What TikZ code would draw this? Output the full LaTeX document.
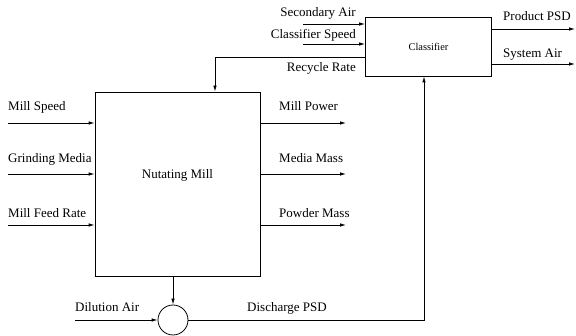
\documentclass[tikz,border=0pt]{standalone}
\usepackage{fontspec}
\setmainfont{Liberation Serif}
\usetikzlibrary{arrows.meta}
\begin{document}
\begin{tikzpicture}[x=1pt,y=-1pt,
      block/.style={rectangle,draw,line width=0.8pt,inner sep=0pt},
      lbl/.style={font=\fontsize{13}{15}\selectfont,inner sep=0pt},
      arr/.style={-{Latex[length=6pt,width=3.5pt]},line width=0.8pt}
    ]
      \useasboundingbox (0,0) rectangle (576,336);
      \node[block,minimum width=165pt,minimum height=184pt] (mill) at (177.5,184) {};
      \node[lbl] (milltxt) at (177.5,175) {Nutating Mill};
      \node[block,minimum width=126pt,minimum height=59pt,font=\fontsize{10.4}{12}\selectfont] (cls) at (428.5,46.5) {Classifier};
      \node[circle,draw,line width=0.8pt,minimum size=30pt,inner sep=0pt] (mix) at (173,320) {};

      \coordinate (msin) at (8,123);
      \coordinate (gmin) at (8,174);
      \coordinate (mfin) at (8,225);
      \coordinate (mpout) at (346,123);
      \coordinate (mmout) at (346,174);
      \coordinate (pmout) at (346,225);
      \coordinate (dil) at (75,320);
      \coordinate (dis) at (424,320);
      \coordinate (sain) at (303,24);
      \coordinate (csin) at (303,44);
      \coordinate (rec) at (215,57);
      \coordinate (ppsd) at (575,29);
      \coordinate (sysair) at (575,64);

      % mill in/out
      \draw[arr] (msin) -- (mill.west |- msin);
      \draw[arr] (gmin) -- (mill.west |- gmin);
      \draw[arr] (mfin) -- (mill.west |- mfin);
      \draw[arr] (mill.east |- mpout) -- (mpout);
      \draw[arr] (mill.east |- mmout) -- (mmout);
      \draw[arr] (mill.east |- pmout) -- (pmout);
      \draw[arr] (mill.south -| mix) -- (mix.north);
      \draw[arr] (dil) -- (mix.west);
      \draw[arr] (mix.east) -| (cls.south -| dis);

      % classifier in/out
      \draw[arr] (sain) -- (cls.west |- sain);
      \draw[arr] (csin) -- (cls.west |- csin);
      \draw[arr] (cls.west |- rec) -| (mill.north -| rec);
      \draw[arr] (cls.east |- ppsd) -- (ppsd);
      \draw[arr] (cls.east |- sysair) -- (sysair);

      \node[lbl,anchor=base west] (mslbl) at (8,111) {Mill Speed};
      \node[lbl,anchor=base west] (gmlbl) at (8,163) {Grinding Media};
      \node[lbl,anchor=base west] (mflbl) at (8,218) {Mill Feed Rate};
      \node[lbl,anchor=base west] (mplbl) at (279,111) {Mill Power};
      \node[lbl,anchor=base west] (mmlbl) at (279,163) {Media Mass};
      \node[lbl,anchor=base west] (pmlbl) at (279,218) {Powder Mass};
      \node[lbl,anchor=base west] (dillbl) at (75,312) {Dilution Air};
      \node[lbl,anchor=base west] (dislbl) at (247,312) {Discharge PSD};
      \node[lbl,anchor=base east] (salbl) at (356,17) {Secondary Air};
      \node[lbl,anchor=base east] (cslbl) at (356,39) {Classifier Speed};
      \node[lbl,anchor=base east] (reclbl) at (356,72) {Recycle Rate};
      \node[lbl,anchor=base west] (pplbl) at (503,21) {Product PSD};
      \node[lbl,anchor=base west] (sylbl) at (503,58) {System Air};
    \end{tikzpicture}
\end{document}
